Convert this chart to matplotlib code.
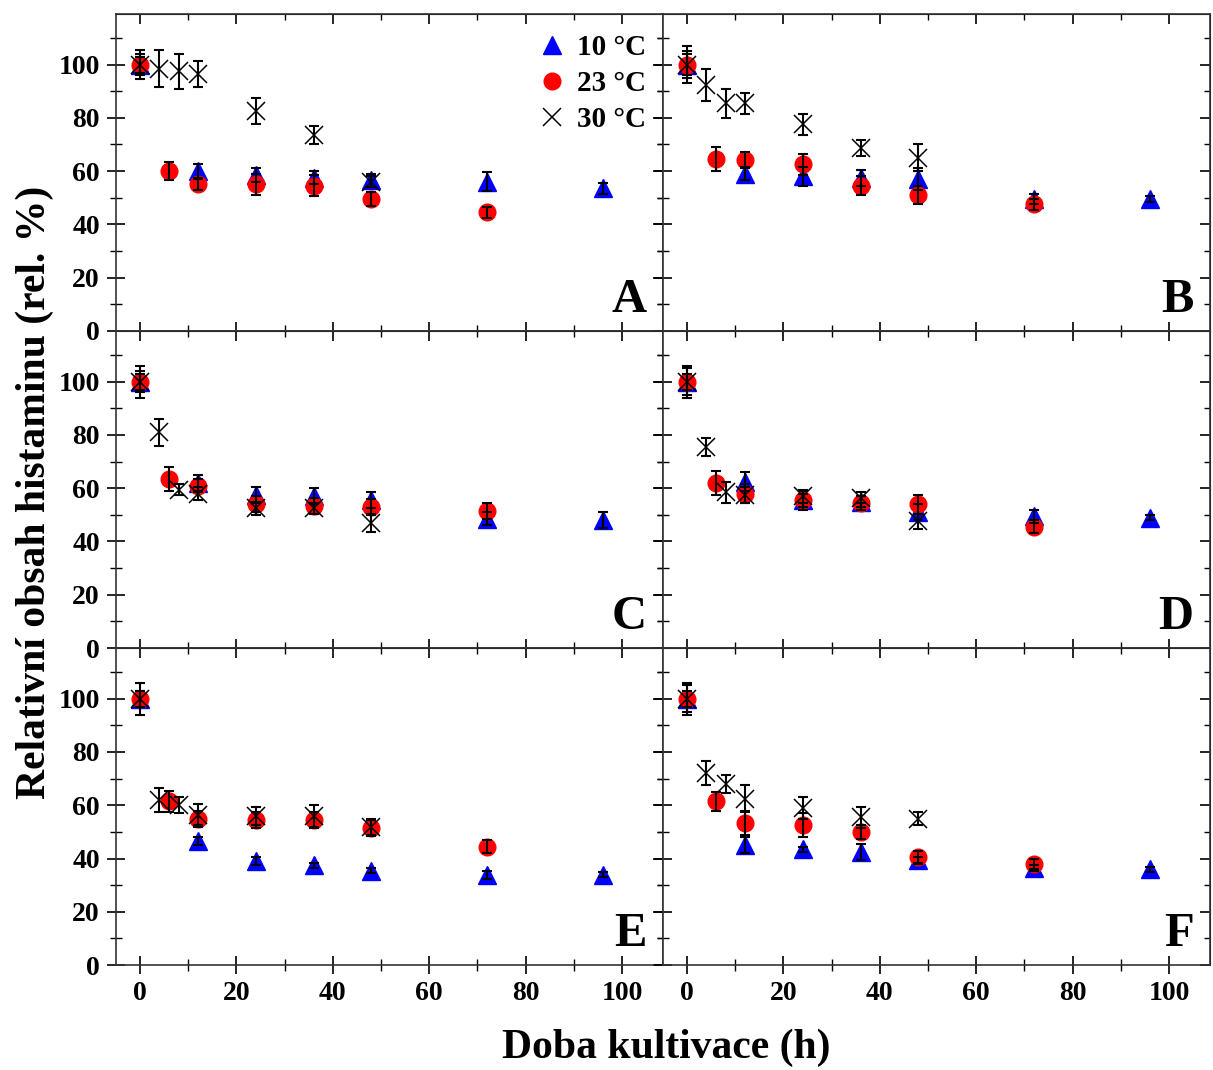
import matplotlib
matplotlib.use('Agg')
import matplotlib.pyplot as plt
from matplotlib.lines import Line2D

plt.rcParams['font.family'] = 'Liberation Serif'
plt.rcParams['font.weight'] = 'bold'

# sampling times (h) for each temperature
t10 = [0, 12, 24, 36, 48, 72, 96]
t23 = [0, 6, 12, 24, 36, 48, 72]
t30 = [0, 4, 8, 12, 24, 36, 48]

panel_names = ['A', 'B', 'C', 'D', 'E', 'F']
temp_labels = ['10 °C', '23 °C', '30 °C']

# relative histamine content (%) and standard deviations
A10 = [100, 60, 58.5, 57.5, 56.5, 56, 53.5]
A10_sd = [3, 2.5, 2.5, 2.5, 2.5, 3.5, 2]
A23 = [100, 60, 55, 55, 54.5, 49.5, 44.5]
A23_sd = [4, 3.5, 2, 4, 4, 2.5, 2]
A30 = [100, 98.5, 97.5, 96.5, 82.5, 73.5, 56]
A30_sd = [5.5, 7, 6.5, 5, 5, 3.5, 2]

B10 = [100, 59, 58, 57.5, 57, 49.5, 49.5]
B10_sd = [4, 2.5, 3.5, 3, 4, 2, 1]
B23 = [100, 64.5, 64, 62.5, 54.5, 51, 47.5]
B23_sd = [5, 4.5, 3, 4, 3.5, 3.5, 2]
B30 = [100, 92.5, 85.5, 85.5, 77.5, 68.5, 65]
B30_sd = [7, 6, 5.5, 4, 4, 3, 5]

C10 = [100, 62, 57.5, 57, 55.5, 48.5, 48]
C10_sd = [3, 3, 3, 3, 3, 2.5, 3]
C23 = [100, 63.5, 61, 54, 53.5, 53, 51.5]
C23_sd = [6, 4.5, 2.5, 3, 3, 3, 3]
C30 = [100, 81, 59.5, 58, 52.5, 52.5, 47]
C30_sd = [4, 5, 2, 2.5, 2.5, 2, 3.5]

D10 = [100, 62.5, 55.5, 55, 51, 49.5, 49]
D10_sd = [3, 3.5, 2.5, 2, 3, 2.5, 1]
D23 = [100, 62, 58, 55.5, 54.5, 54, 45.5]
D23_sd = [5, 4.5, 3.5, 3.5, 2.5, 3.5, 2.5]
D30 = [100, 75.5, 58.5, 57.5, 57, 56.5, 47.5]
D30_sd = [6, 3.5, 4, 3, 2.5, 2, 3]

E10 = [100, 46.5, 39, 37.5, 35.5, 34, 34]
E10_sd = [3, 1.5, 1.5, 1, 1, 1.5, 1]
E23 = [100, 61.5, 55, 54.5, 54.5, 51.5, 44.5]
E23_sd = [3, 4, 3, 3, 3, 3, 2.5]
E30 = [100, 62, 60, 56.5, 56, 56, 52]
E30_sd = [6, 4.5, 3, 4, 3.5, 4, 3]

F10 = [100, 45, 43.5, 42.5, 39.5, 36.5, 36]
F10_sd = [3, 3, 1, 3, 1, 1, 1]
F23 = [100, 61.5, 53.5, 52.5, 50, 40.5, 38]
F23_sd = [5, 3.5, 4.5, 4.5, 2.5, 2.5, 2]
F30 = [100, 72, 68, 62.5, 59, 55.5, 55]
F30_sd = [6, 4.5, 3.5, 5, 4, 4, 2.5]

panels = [
    (A10, A10_sd, A23, A23_sd, A30, A30_sd),
    (B10, B10_sd, B23, B23_sd, B30, B30_sd),
    (C10, C10_sd, C23, C23_sd, C30, C30_sd),
    (D10, D10_sd, D23, D23_sd, D30, D30_sd),
    (E10, E10_sd, E23, E23_sd, E30, E30_sd),
    (F10, F10_sd, F23, F23_sd, F30, F30_sd),
]

fig, axes = plt.subplots(3, 2, figsize=(12.13, 10.70), dpi=100, sharex=True, sharey=True)
fig.subplots_adjust(left=0.0956, right=0.9975, top=0.987, bottom=0.098, wspace=0, hspace=0)

# error bars go over the symbols
err_kw = dict(fmt='none', ecolor='black', elinewidth=1.5, capsize=3.5, capthick=1.5, zorder=6)
sym10 = dict(marker='^', ms=12.5, mfc='blue', mec='blue', ls='none')
sym23 = dict(marker='o', ms=12, mfc='red', mec='red', ls='none')
sym30 = dict(marker='x', ms=12.5, mew=1.1, mec='black', ls='none')

for i, ax in enumerate(axes.flat):
    y10, s10, y23, s23, y30, s30 = panels[i]
    ax.plot(t10, y10, zorder=2, **sym10)
    ax.plot(t23, y23, zorder=3, **sym23)
    ax.plot(t30, y30, zorder=4, **sym30)
    ax.errorbar(t10, y10, yerr=s10, **err_kw)
    ax.errorbar(t23, y23, yerr=s23, **err_kw)
    ax.errorbar(t30, y30, yerr=s30, **err_kw)

    ax.set_xlim(-5, 108.5)
    ax.set_ylim(0, 119)
    ax.set_xticks(range(0, 101, 20))
    ax.set_xticks(range(10, 101, 20), minor=True)
    ax.set_yticks(range(0, 101, 20))
    ax.set_yticks(range(10, 111, 20), minor=True)
    ax.tick_params(which='major', direction='inout', length=13, width=1.2, labelsize=20, pad=5)
    ax.tick_params(which='minor', direction='inout', length=8, width=1.0)
    for spine in ax.spines.values():
        spine.set_linewidth(1.2)
        spine.set_color('#333333')

    # inward ticks on the top and right edges
    top = ax.secondary_xaxis('top')
    top.set_xticks(range(0, 101, 20))
    top.set_xticks(range(10, 101, 20), minor=True)
    top.tick_params(which='major', direction='in', length=7, width=1.2, labeltop=False)
    top.tick_params(which='minor', direction='in', length=4, width=1.0)
    right = ax.secondary_yaxis('right')
    right.set_yticks(range(0, 101, 20))
    right.set_yticks(range(10, 111, 20), minor=True)
    right.tick_params(which='major', direction='in', length=7, width=1.2, labelright=False)
    right.tick_params(which='minor', direction='in', length=4, width=1.0)

    ax.text(0.97, 0.06, panel_names[i], transform=ax.transAxes, ha='right', va='baseline',
            fontsize=35, fontweight='bold')

    if i % 2 == 1:
        ax.tick_params(labelleft=False)
    if i < 4:
        ax.tick_params(labelbottom=False)

handles = [Line2D([], [], **sym10), Line2D([], [], **sym23), Line2D([], [], **sym30)]
axes[0, 0].legend(handles, temp_labels, loc='upper right', bbox_to_anchor=(1.007, 1.0),
                  frameon=False, fontsize=21, handlelength=1.0, handletextpad=0.35,
                  labelspacing=0.3, borderaxespad=0.3)

fig.text(0.029, 0.54, 'Relativní obsah histaminu (rel. %)', rotation=90, ha='center', va='center',
         fontsize=30, fontweight='bold')
fig.text(0.549, 0.021, 'Doba kultivace (h)', ha='center', va='center', fontsize=30, fontweight='bold')

fig.savefig('out.png', dpi=100)
